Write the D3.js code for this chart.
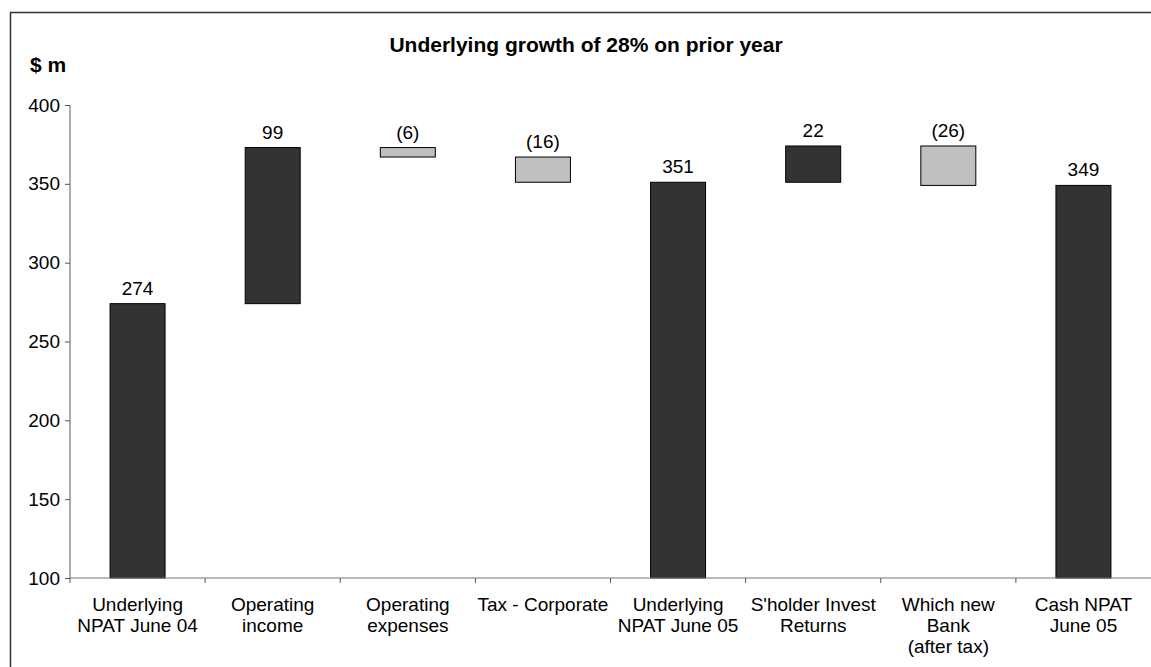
<!DOCTYPE html>
<html><head><meta charset="utf-8">
<script src="https://cdn.jsdelivr.net/npm/d3@7/dist/d3.min.js"></script>
<style>
html,body{margin:0;padding:0;background:#fff;}
svg{display:block;font-family:"Liberation Sans",Arial,sans-serif;}
</style></head>
<body>
<svg id="chart" width="1151" height="667"></svg>
<script>
const categories = [
  ["Underlying","NPAT June 04"],
  ["Operating","income"],
  ["Operating","expenses"],
  ["Tax - Corporate"],
  ["Underlying","NPAT June 05"],
  ["S'holder Invest","Returns"],
  ["Which new","Bank","(after tax)"],
  ["Cash NPAT","June 05"]
];
const barLow  = [100, 274, 367, 351, 100, 351, 349, 100];
const barHigh = [274, 373, 373, 367, 351, 374, 374, 349];
const barType = ["total","up","down","down","total","up","down","total"];
const valueLabels = ["274","99","(6)","(16)","351","22","(26)","349"];
const yTicks = [100,150,200,250,300,350,400];

(function(){
const svg = d3.select("#chart");
const pl = 70, pr = 1151, pt = 105, pb = 578;
const fs = "19px", fsb = "21px";

const x = d3.scaleBand().domain(d3.range(categories.length)).range([pl, pr]).padding(0);
const y = d3.scaleLinear().domain([100, 400]).range([pb, pt]);

// frame
svg.append("path").attr("d", "M10.5,667 L10.5,12.5 L1151,12.5")
  .attr("fill","none").attr("stroke","#333").attr("stroke-width",1.5);

// title
svg.append("text").attr("x",586).attr("y",52).attr("text-anchor","middle")
  .attr("font-size",fsb).attr("font-weight","bold").attr("fill","#000")
  .text("Underlying growth of 28% on prior year");
svg.append("text").attr("x",30).attr("y",72)
  .attr("font-size",fsb).attr("font-weight","bold").attr("fill","#000")
  .text("$ m");

// y axis
const yAxis = d3.axisLeft(y).tickValues(yTicks).tickSize(5).tickPadding(5);
const gy = svg.append("g").attr("transform",`translate(${pl},0)`).call(yAxis);
gy.select(".domain").attr("stroke","#777").attr("stroke-width",1.2).attr("d",`M0,${pt}V${pb}`);
gy.selectAll(".tick line").attr("stroke","#555");
gy.selectAll(".tick text").attr("font-size",fs).attr("fill","#000")
  .attr("font-family","'Liberation Sans',Arial,sans-serif");

// bars
const bw = x.bandwidth()*0.407;
const fills = {total:"#333333", up:"#333333", down:"#c0c0c0"};
svg.append("g").selectAll("rect").data(categories).join("rect")
  .attr("x",(d,i)=>x(i)+x.bandwidth()/2-bw/2)
  .attr("y",(d,i)=>y(barHigh[i]))
  .attr("width",bw)
  .attr("height",(d,i)=>y(barLow[i])-y(barHigh[i]))
  .attr("fill",(d,i)=>fills[barType[i]])
  .attr("stroke","#000").attr("stroke-width",1);

// x axis
const xAxis = d3.axisBottom(x).tickSize(0).tickFormat("");
const gx = svg.append("g").attr("transform",`translate(0,${pb})`).call(xAxis);
gx.select(".domain").attr("stroke","#777").attr("stroke-width",1.2).attr("d",`M${pl},0H${pr}`);
gx.selectAll(".tick").remove();
const edges = d3.range(categories.length).map(i=>x(i));
gx.selectAll("line.sep").data(edges).join("line").attr("class","sep")
  .attr("x1",d=>d).attr("x2",d=>d).attr("y1",0).attr("y2",5)
  .attr("stroke","#555").attr("stroke-width",1);

// category labels
const cl = svg.append("g");
categories.forEach((lines,i)=>{
  const t = cl.append("text").attr("text-anchor","middle")
    .attr("font-size",fs).attr("fill","#000");
  lines.forEach((ln,j)=>{
    t.append("tspan").attr("x",x(i)+x.bandwidth()/2).attr("y",611+j*21).text(ln);
  });
});

// value labels
svg.append("g").selectAll("text").data(valueLabels).join("text")
  .attr("x",(d,i)=>x(i)+x.bandwidth()/2)
  .attr("y",(d,i)=>y(barHigh[i])-9)
  .attr("text-anchor","middle").attr("font-size",fs).attr("fill","#000")
  .text(d=>d);
})();
</script>
</body></html>
